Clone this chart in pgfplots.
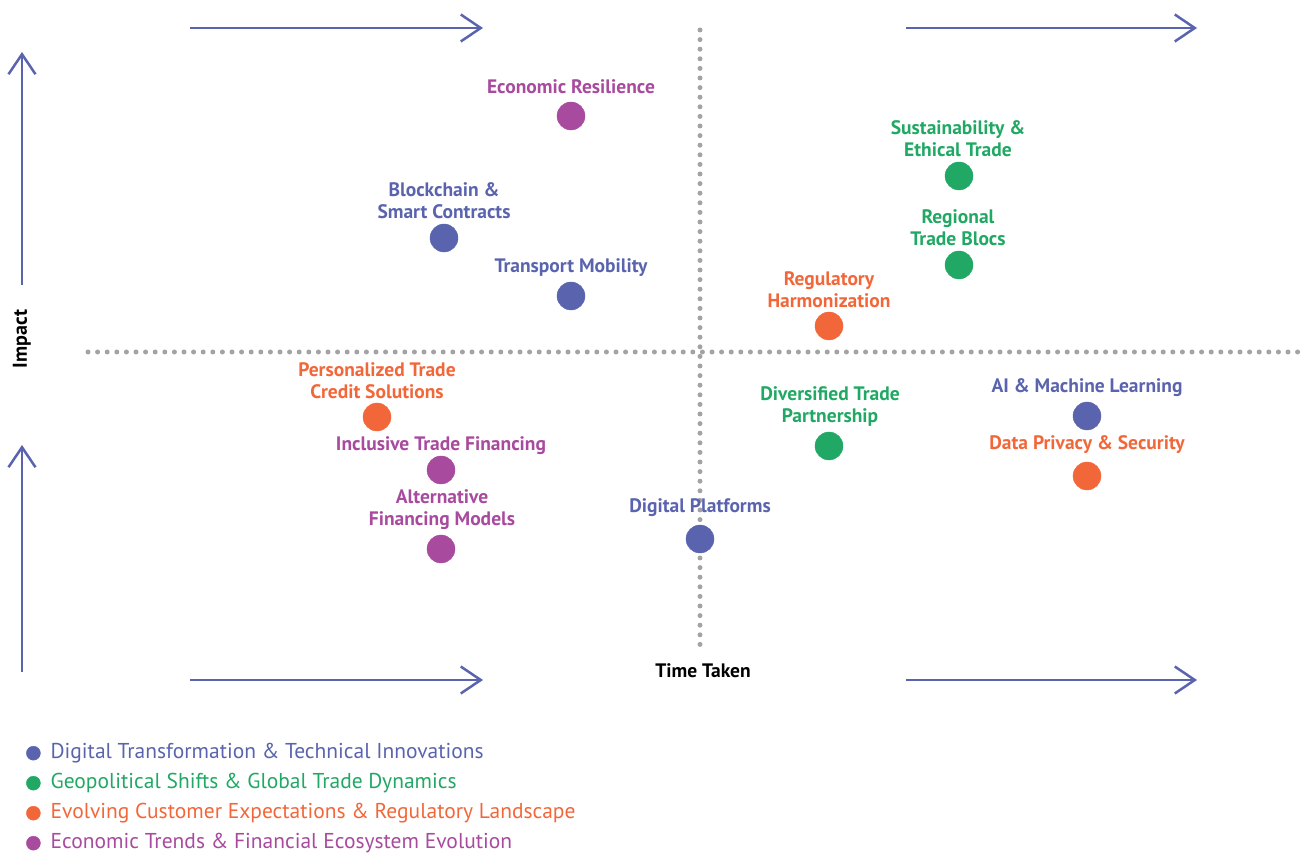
\documentclass[border=0pt]{standalone}
\usepackage{fontspec}
\setmainfont{PT Sans}
\usepackage{pgfplots}
\pgfplotsset{compat=1.18}
\usetikzlibrary{arrows.meta}
\definecolor{cblue}{HTML}{5A64AE}
\definecolor{cgreen}{HTML}{21A864}
\definecolor{corange}{HTML}{F2673A}
\definecolor{cpurple}{HTML}{A84A9E}
\definecolor{cdot}{HTML}{A3A3A3}
\tikzset{
  lbl/.style={font=\bfseries\fontsize{19.5}{22}\selectfont, align=center},
  arr/.style={draw=cblue, line width=2.5pt, -{Straight Barb[length=20pt, width=27pt]}},
  dots/.style={draw=cdot, line width=5pt, line cap=round, dash pattern=on 0pt off 9.6pt},
}
\begin{document}
\begin{tikzpicture}
\begin{axis}[
name=ax,
scale only axis,
width=1306pt, height=852pt,
xmin=0, xmax=1306, ymin=0, ymax=852,
hide axis,
clip=false,
legend cell align=left,
legend style={at={(axis cs:26,114)}, anchor=north west, draw=none, fill=none,
  inner sep=0pt, row sep=0pt, font=\fontsize{21.5}{24}\selectfont,
  /tikz/every odd column/.append style={column sep=8pt},
  nodes={text height=15pt, text depth=5pt, inner ysep=5pt}},
]
% quadrant dividers
\draw[dots] (axis cs:700,822) -- (axis cs:700,204);
\draw[dots] (axis cs:88,500) -- (axis cs:1306,500);
% arrows
\draw[arr] (axis cs:190,824) -- (axis cs:483,824);
\draw[arr] (axis cs:906,824) -- (axis cs:1197,824);
\draw[arr] (axis cs:190,172) -- (axis cs:483,172);
\draw[arr] (axis cs:906,172) -- (axis cs:1197,172);
\draw[arr] (axis cs:22,567) -- (axis cs:22,800);
\draw[arr] (axis cs:22,180) -- (axis cs:22,407);
\node[font=\bfseries\fontsize{20}{22}\selectfont, rotate=90] at (axis cs:22,513) {Impact};
\node[font=\bfseries\fontsize{19.5}{22}\selectfont] at (axis cs:703,181) {Time Taken};

\addplot[only marks, mark=*, mark size=14pt, color=cblue,
  legend image code/.code={\fill[cblue] (0pt,0pt) circle (7pt);}]
  coordinates {(444,614) (571,556) (700,313) (1087,436)};
\addlegendentry{\textcolor{cblue}{Digital Transformation \& Technical Innovations}}
\addplot[only marks, mark=*, mark size=14pt, color=cgreen,
  legend image code/.code={\fill[cgreen] (0pt,0pt) circle (7pt);}]
  coordinates {(959,676) (959,587) (829,406)};
\addlegendentry{\textcolor{cgreen}{Geopolitical Shifts \& Global Trade Dynamics}}
\addplot[only marks, mark=*, mark size=14pt, color=corange,
  legend image code/.code={\fill[corange] (0pt,0pt) circle (7pt);}]
  coordinates {(829,526) (377,435) (1087,376)};
\addlegendentry{\textcolor{corange}{Evolving Customer Expectations \& Regulatory Landscape}}
\addplot[only marks, mark=*, mark size=14pt, color=cpurple,
  legend image code/.code={\fill[cpurple] (0pt,0pt) circle (7pt);}]
  coordinates {(571,736) (441,382) (441,303)};
\addlegendentry{\textcolor{cpurple}{Economic Trends \& Financial Ecosystem Evolution}}

% labels
\node[lbl, text=cblue] at (axis cs:444,651) {Blockchain \&\\Smart Contracts};
\node[lbl, text=cblue] at (axis cs:571,584) {Transport Mobility};
\node[lbl, text=cblue] at (axis cs:700,344) {Digital Platforms};
\node[lbl, text=cblue] at (axis cs:1087,464) {AI \& Machine Learning};
\node[lbl, text=cgreen] at (axis cs:958,713) {Sustainability \&\\Ethical Trade};
\node[lbl, text=cgreen] at (axis cs:958,624) {Regional\\Trade Blocs};
\node[lbl, text=cgreen] at (axis cs:830,445) {Diversified Trade\\Partnership};
\node[lbl, text=corange] at (axis cs:829,562) {Regulatory\\Harmonization};
\node[lbl, text=corange] at (axis cs:377,471) {Personalized Trade\\Credit Solutions};
\node[lbl, text=corange] at (axis cs:1087,407) {Data Privacy \& Security};
\node[lbl, text=cpurple] at (axis cs:571,765) {Economic Resilience};
\node[lbl, text=cpurple] at (axis cs:441,406) {Inclusive Trade Financing};
\node[lbl, text=cpurple] at (axis cs:442,342) {Alternative\\Financing Models};
\end{axis}
\pgfresetboundingbox
\path (ax.south west) rectangle (ax.north east);
\end{tikzpicture}
\end{document}
